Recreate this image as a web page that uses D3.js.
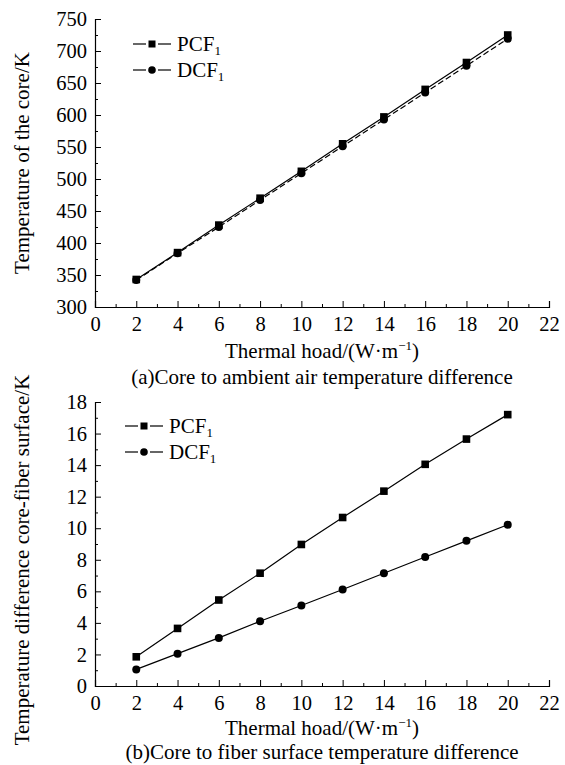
<!DOCTYPE html>
<html><head><meta charset="utf-8">
<script src="https://cdn.jsdelivr.net/npm/d3@7"></script>
<style>body{margin:0;background:#fff}svg{display:block}text{font-family:"Liberation Serif","Times New Roman",serif;fill:#000}</style>
</head><body><svg id="c" width="565" height="765"></svg>
<script>
const thermalLoad = [2,4,6,8,10,12,14,16,18,20];
const pcfCore = [343,385,428,470,512,555,597,640,682,725];
const dcfCore = [342,384,425,467,509,551,593,635,677,719];
const pcfDiff = [1.85,3.65,5.45,7.15,8.97,10.68,12.35,14.05,15.65,17.2];
const dcfDiff = [1.05,2.05,3.05,4.1,5.1,6.12,7.15,8.18,9.2,10.22];
const xTicks = d3.range(0,23,2);
const yTicksA = d3.range(300,751,50);
const yTicksB = d3.range(0,19,2);
const seriesNames = ["PCF","DCF"];

const svg = d3.select("#c");
const FS = 21, TFS = 20.5;

function panel(cfg){
  const g = svg.append("g");
  const x = d3.scaleLinear().domain([0,22]).range([95,549]);
  const y = d3.scaleLinear().domain(cfg.yDomain).range(cfg.yRange);
  const xMinor = d3.range(1,22,2);
  const yMinor = cfg.yMinor;
  g.append("g").attr("transform",`translate(0,${cfg.yRange[0]})`)
    .call(d3.axisBottom(x).tickValues(xTicks).tickSize(-6).tickPadding(9).tickFormat(d3.format("d")));
  g.append("g").attr("transform",`translate(0,${cfg.yRange[0]})`)
    .call(d3.axisBottom(x).tickValues(xMinor).tickSize(-3).tickFormat(""))
    .select(".domain").remove();
  g.append("g").attr("transform",`translate(95,0)`)
    .call(d3.axisLeft(y).tickValues(cfg.yTicks).tickSize(-6).tickPadding(8).tickFormat(d3.format("d")));
  g.append("g").attr("transform",`translate(95,0)`)
    .call(d3.axisLeft(y).tickValues(yMinor).tickSize(-3).tickFormat(""))
    .select(".domain").remove();
  g.selectAll(".domain").attr("stroke","#000").attr("stroke-width",1.2);
  g.selectAll(".tick line").attr("stroke","#000").attr("stroke-width",1);
  g.selectAll(".tick text").attr("font-size",TFS);
  g.append("text").attr("transform",`translate(29,${cfg.yLabelY}) rotate(-90)`)
    .attr("text-anchor","middle").attr("font-size",FS).text(cfg.yLabel);
  const xl = g.append("text").attr("x",322).attr("y",cfg.yRange[0]+cfg.titleOff)
    .attr("text-anchor","middle").attr("font-size",FS);
  xl.append("tspan").text("Thermal hoad/(W·m");
  xl.append("tspan").attr("dy",-8).attr("font-size",13).text("−1");
  xl.append("tspan").attr("dy",8).text(")");
  g.append("text").attr("x",322).attr("y",cfg.yRange[0]+cfg.capOff)
    .attr("text-anchor","middle").attr("font-size",FS).text(cfg.caption);

  const line = d3.line().x((d,i)=>x(thermalLoad[i])).y(d=>y(d));
  const data = [cfg.pcf, cfg.dcf];
  data.forEach((vals,k)=>{
    g.append("path").attr("d",line(vals)).attr("fill","none").attr("stroke","#000")
      .attr("stroke-width",1.2).attr("stroke-dasharray",(k===1&&cfg.dashDcf)?"6,3":null);
  });
  data.forEach((vals,k)=>{
    vals.forEach((v,i)=>{
      if(k===0) g.append("rect").attr("x",x(thermalLoad[i])-3.8).attr("y",y(v)-3.8).attr("width",7.6).attr("height",7.6);
      else g.append("circle").attr("cx",x(thermalLoad[i])).attr("cy",y(v)).attr("r",4);
    });
  });
  seriesNames.forEach((nm,k)=>{
    const ly = cfg.legY + k*26, lx = cfg.legX;
    g.append("line").attr("x1",lx).attr("x2",lx+13).attr("y1",ly).attr("y2",ly).attr("stroke","#000").attr("stroke-width",1.2);
    g.append("line").attr("x1",lx+25).attr("x2",lx+38).attr("y1",ly).attr("y2",ly).attr("stroke","#000").attr("stroke-width",1.2);
    if(k===0) g.append("rect").attr("x",lx+19-3.5).attr("y",ly-3.5).attr("width",7).attr("height",7);
    else g.append("circle").attr("cx",lx+19).attr("cy",ly).attr("r",3.8);
    const t = g.append("text").attr("x",lx+44).attr("y",ly+7).attr("font-size",FS);
    t.append("tspan").text(nm);
    t.append("tspan").attr("font-size",13).attr("dy",4).text("1");
  });
}
panel({yDomain:[300,750],yRange:[307,19],yTicks:yTicksA,yMinor:d3.range(325,750,50),
  pcf:pcfCore,dcf:dcfCore,dashDcf:true,yLabel:"Temperature of the core/K",yLabelY:163,
  caption:"(a)Core to ambient air temperature difference",legX:133,legY:44,titleOff:51,capOff:77});
panel({yDomain:[0,18],yRange:[686,402],yTicks:yTicksB,yMinor:d3.range(1,18,2),
  pcf:pcfDiff,dcf:dcfDiff,dashDcf:false,yLabel:"Temperature difference core-fiber surface/K",yLabelY:560,
  caption:"(b)Core to fiber surface temperature difference",legX:125,legY:426,titleOff:49,capOff:73});
</script></body></html>
